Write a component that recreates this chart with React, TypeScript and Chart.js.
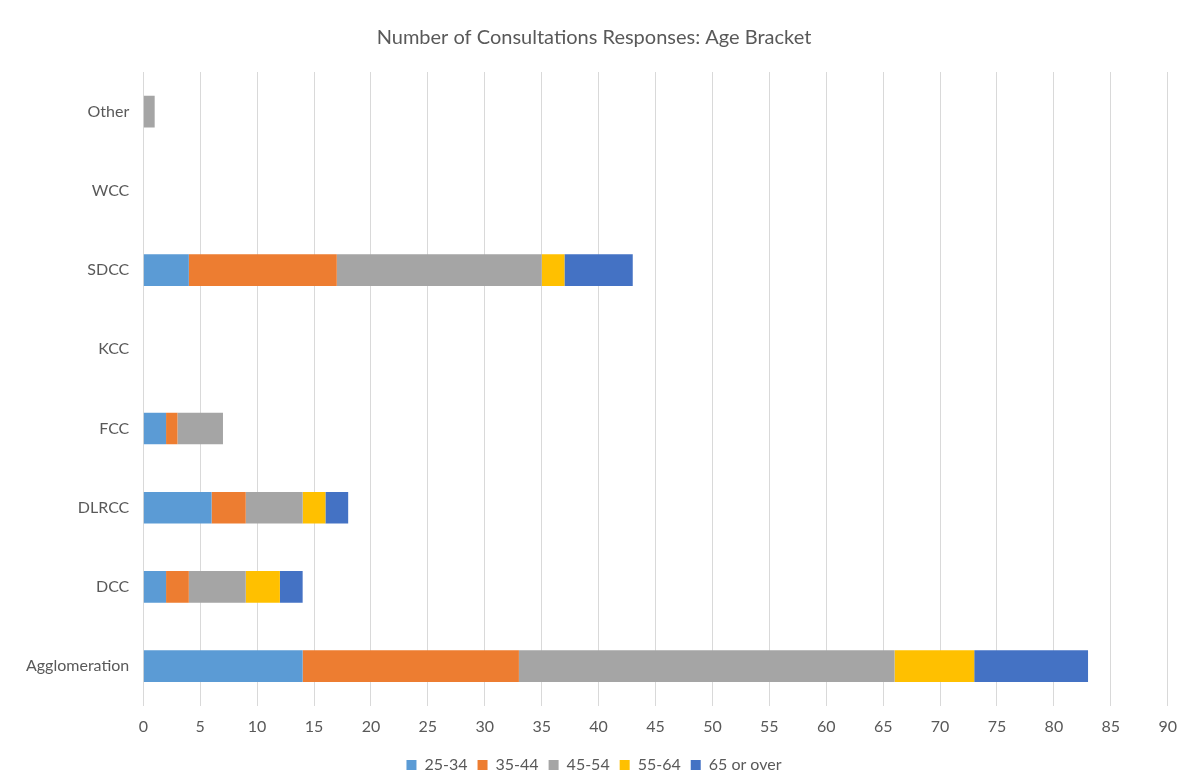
import React, { useEffect, useRef } from "react";
import { Chart, registerables } from "chart.js";

Chart.register(...registerables);

const categories = ["Other", "WCC", "SDCC", "KCC", "FCC", "DLRCC", "DCC", "Agglomeration"];
const age25to34 = [0, 0, 4, 0, 2, 6, 2, 14];
const age35to44 = [0, 0, 13, 0, 1, 3, 2, 19];
const age45to54 = [1, 0, 18, 0, 4, 5, 5, 33];
const age55to64 = [0, 0, 2, 0, 0, 2, 3, 7];
const age65plus = [0, 0, 6, 0, 0, 2, 2, 10];
const seriesNames = ["25-34", "35-44", "45-54", "55-64", "65 or over"];
const seriesColors = ["#5B9BD5", "#ED7D31", "#A5A5A5", "#FFC000", "#4472C4"];
const xTicksMax = 90;
const xTickStep = 5;

const FONT = "Lato, 'Open Sans', sans-serif";

export default function App() {
  const ref = useRef<HTMLCanvasElement | null>(null);
  useEffect(() => {
    if (!ref.current) return;
    const values = [age25to34, age35to44, age45to54, age55to64, age65plus];
    const chart = new Chart(ref.current, {
      type: "bar",
      data: {
        labels: categories,
        datasets: values.map((v, i) => ({
          label: seriesNames[i],
          data: v,
          backgroundColor: seriesColors[i],
          borderWidth: 0,
          barPercentage: 0.4,
          categoryPercentage: 1,
        })),
      },
      options: {
        indexAxis: "y",
        animation: false,
        responsive: true,
        maintainAspectRatio: false,
        layout: { padding: { left: 4, right: 12, top: 8, bottom: -9 } },
        plugins: {
          title: {
            display: true,
            text: "Number of Consultations Responses: Age Bracket",
            color: "#595959",
            font: { family: FONT, size: 20, weight: "normal" },
            padding: { top: 10, bottom: 22 },
          },
          legend: {
            position: "bottom",
            labels: {
              color: "#595959",
              font: { family: FONT, size: 16 },
              boxWidth: 10,
              boxHeight: 10,
              padding: 10,
            },
          },
          tooltip: { enabled: false },
        },
        scales: {
          x: {
            stacked: true,
            min: 0,
            max: xTicksMax,
            ticks: { stepSize: xTickStep, color: "#595959", font: { family: FONT, size: 16 }, padding: 11 },
            grid: { color: "#D9D9D9", lineWidth: 1, drawTicks: false },
            border: { display: false },
          },
          y: {
            stacked: true,
            ticks: { color: "#595959", font: { family: FONT, size: 16 }, padding: 14 },
            grid: { display: false, drawTicks: false },
            border: { display: true, color: "#D9D9D9" },
          },
        },
      },
    });
    return () => chart.destroy();
  }, []);
  return (
    <div
      style={{
        width: 1182,
        height: 768,
        boxSizing: "border-box",
        border: "1px solid #D9D9D9",
        margin: "-1px",
        background: "#fff",
        position: "relative",
      }}
    >
      <canvas ref={ref} />
    </div>
  );
}
